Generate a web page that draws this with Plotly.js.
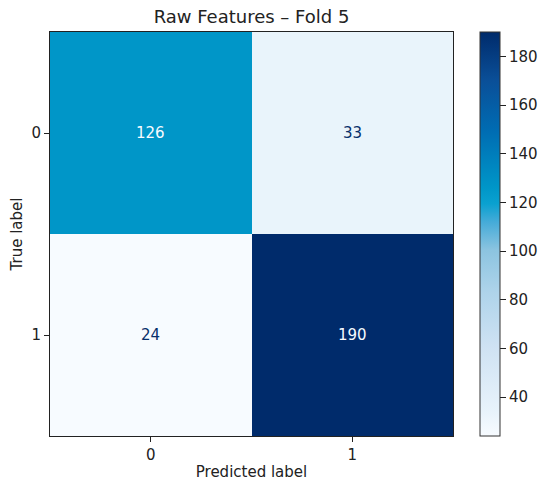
<!DOCTYPE html>
<html>
<head>
<meta charset="utf-8">
<script src="https://cdn.plot.ly/plotly-3.0.1.min.js"></script>
<style>html,body{margin:0;padding:0;background:#fff;}</style>
</head>
<body>
<div id="chart" style="width:550px;height:489px;"></div>
<script>
const predictedLabels = ["0", "1"];
const trueLabels = ["0", "1"];
const counts = [
  [126, 33],
  [24, 190]
];
const colorbarTicks = [40, 60, 80, 100, 120, 140, 160, 180];
const chartTitle = "Raw Features – Fold 5";

const zmin = Math.min(...counts.flat());
const zmax = Math.max(...counts.flat());
const mid = (zmin + zmax) / 2;

const colorscale = [
  [0.0, "#f7fbff"],
  [0.06, "#e8f3fb"],
  [0.22, "#cfe2f3"],
  [0.36, "#add3ea"],
  [0.46, "#8cc4e0"],
  [0.53, "#45abd8"],
  [0.575, "#0aa1d0"],
  [0.615, "#0096c8"],
  [0.76, "#006bb2"],
  [0.88, "#0a4f98"],
  [1.0, "#002b6b"]
];

const FS = 15;
const annotations = [];
counts.forEach((row, i) => {
  row.forEach((v, j) => {
    annotations.push({
      x: predictedLabels[j], y: trueLabels[i], xref: "x", yref: "y",
      text: String(v), showarrow: false,
      font: {family: "DejaVu Sans", size: FS, color: v > mid ? "#f7fbff" : "#08306b"}
    });
  });
});

const trace = {
  type: "heatmap",
  x: predictedLabels,
  y: trueLabels,
  z: counts,
  zmin: zmin, zmax: zmax,
  colorscale: colorscale,
  hoverinfo: "skip",
  colorbar: {
    thickness: 20, thicknessmode: "pixels",
    len: 1, lenmode: "fraction",
    x: 1.0665, xanchor: "left", xref: "paper",
    y: 0.5, yanchor: "middle",
    outlinewidth: 1, outlinecolor: "#333",
    tickvals: colorbarTicks,
    ticks: "outside", ticklen: 6, tickcolor: "#222",
    tickfont: {family: "DejaVu Sans", size: FS, color: "#222"},
    xpad: 0, ypad: 0
  }
};

const layout = {
  width: 550, height: 489,
  margin: {l: 50, r: 94, t: 32, b: 53},
  paper_bgcolor: "#fff", plot_bgcolor: "#fff",
  font: {family: "DejaVu Sans", color: "#222"},
  title: {text: chartTitle, font: {family: "DejaVu Sans", size: 18, color: "#222"},
          x: 0.5, xref: "paper", y: 1 - 17/489, yref: "container", yanchor: "middle"},
  xaxis: {
    type: "category", showline: true, mirror: true, linecolor: "#222", linewidth: 1,
    ticks: "outside", ticklen: 5, tickcolor: "#222", showgrid: false, zeroline: false,
    tickfont: {family: "DejaVu Sans", size: FS, color: "#222"},
    title: {text: "Predicted label", font: {family: "DejaVu Sans", size: FS, color: "#222"}, standoff: 3}
  },
  yaxis: {
    type: "category", autorange: "reversed", showline: true, mirror: true, linecolor: "#222", linewidth: 1,
    ticks: "outside", ticklen: 5, tickcolor: "#222", showgrid: false, zeroline: false,
    tickfont: {family: "DejaVu Sans", size: FS, color: "#222"},
    title: {text: "True label", font: {family: "DejaVu Sans", size: FS, color: "#222"}, standoff: 5}
  },
  annotations: annotations
};

Plotly.newPlot("chart", [trace], layout, {displayModeBar: false, staticPlot: true});
</script>
</body>
</html>
